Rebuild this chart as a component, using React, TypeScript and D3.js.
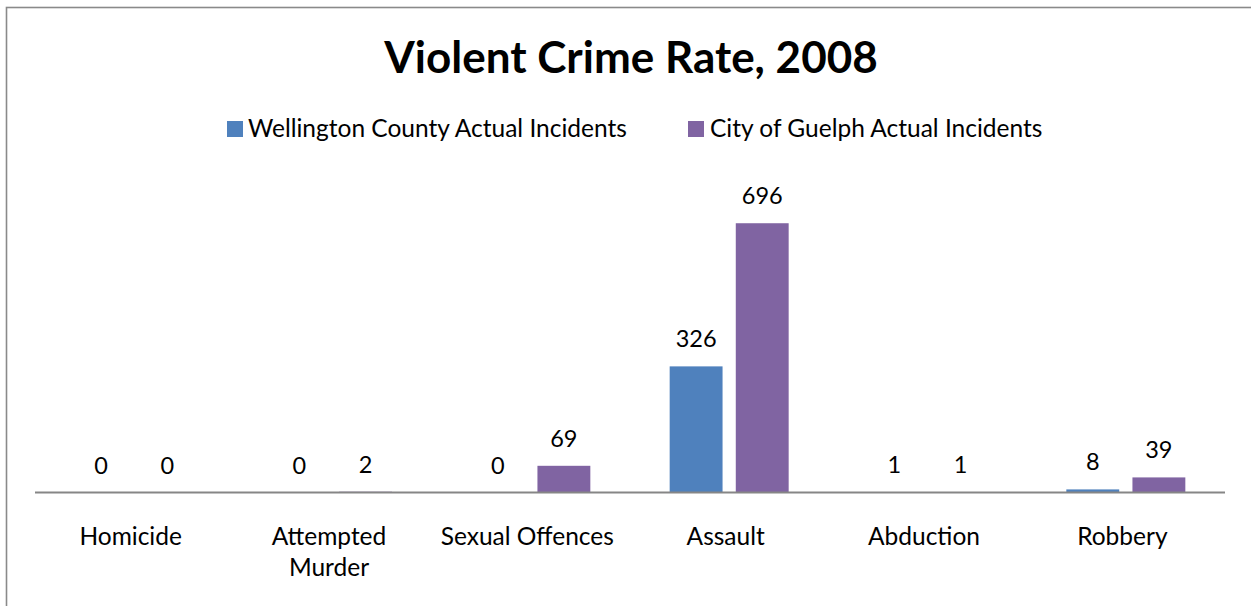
import React from "react";
import * as d3 from "d3";

const categories = ["Homicide", "Attempted Murder", "Sexual Offences", "Assault", "Abduction", "Robbery"];
const tickLabels = [["Homicide"], ["Attempted", "Murder"], ["Sexual Offences"], ["Assault"], ["Abduction"], ["Robbery"]];
const seriesNames = ["Wellington County Actual Incidents", "City of Guelph Actual Incidents"];
const wellington = [0, 0, 0, 326, 1, 8];
const guelph = [0, 2, 69, 696, 1, 39];
const colors = ["#4F81BD", "#8064A2"];
const title = "Violent Crime Rate, 2008";

const W = 1251;
const H = 606;
const FONT = "Lato, 'Open Sans', sans-serif";

export default function App() {
  const x0 = d3.scaleBand<string>().domain(categories).range([35, 1225]).padding(0);
  const bw = x0.bandwidth();
  const x1 = d3
    .scaleBand<string>()
    .domain(seriesNames)
    .range([bw * 0.2, bw * 0.8])
    .paddingInner(0.2);
  const y = d3.scaleLinear().domain([0, 800]).range([492.5, 183]);
  const series = [wellington, guelph];

  return (
    <svg
      width={W}
      height={H}
      style={{ position: "absolute", left: 0, top: 0, background: "#fff" }}
      fontFamily={FONT}
    >
      <rect x={0} y={0} width={W} height={H} fill="#fff" />
      <rect x={6.5} y={7.5} width={W + 20} height={H + 20} fill="none" stroke="#8a8a8a" strokeWidth={1.6} />
      <text x={631} y={73} textAnchor="middle" fontWeight="bold" fontSize={44} fill="#000">
        {title}
      </text>
      {/* legend */}
      <g>
        <rect x={227} y={121} width={16} height={16} fill={colors[0]} />
        <text x={248} y={137} fontSize={24.5} fill="#000">{seriesNames[0]}</text>
        <rect x={688} y={121} width={16} height={16} fill={colors[1]} />
        <text x={710} y={137} fontSize={24.5} fill="#000">{seriesNames[1]}</text>
      </g>
      {/* bars */}
      {categories.map((c, i) => (
        <g key={c} transform={`translate(${x0(c)},0)`}>
          {series.map((s, j) => {
            const v = s[i];
            const xx = x1(seriesNames[j])!;
            const top = y(v);
            return (
              <g key={j}>
                {v > 0 && (
                  <rect x={xx} y={top} width={x1.bandwidth()} height={y(0) - top} fill={colors[j]} />
                )}
                <text
                  x={xx + x1.bandwidth() / 2}
                  y={top - 19}
                  textAnchor="middle"
                  fontSize={23.5}
                  fill="#000"
                >
                  {v}
                </text>
              </g>
            );
          })}
        </g>
      ))}
      {/* axis */}
      <line x1={35} x2={1225} y1={492.5} y2={492.5} stroke="#868686" strokeWidth={2} />
      {categories.map((c, i) => (
        <text key={c} x={x0(c)! + bw / 2 - 3.5} y={545} textAnchor="middle" fontSize={24.5} fill="#000">
          {tickLabels[i].map((t, k) => (
            <tspan key={k} x={x0(c)! + bw / 2 - 3.5} dy={k === 0 ? 0 : 31}>
              {t}
            </tspan>
          ))}
        </text>
      ))}
    </svg>
  );
}
